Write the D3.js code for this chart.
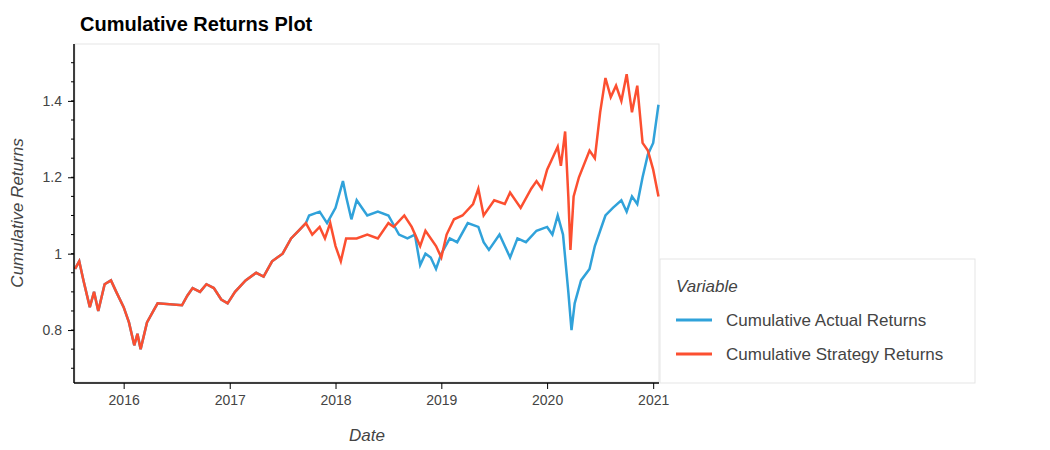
<!DOCTYPE html>
<html>
<head>
<meta charset="utf-8">
<script src="https://cdn.jsdelivr.net/npm/d3@7"></script>
<style>
	body { margin: 0; background: #fff; font-family: "Liberation Sans", Arial, sans-serif; }
	svg { font-family: "Liberation Sans", Arial, sans-serif; }
	.axis text { font-size: 14px; fill: #444; font-family: "Liberation Sans", Arial, sans-serif; }
	.axis path, .axis line { stroke: #000; }
</style>
</head>
<body>
<svg width="1050" height="450"></svg>
<script>
// shared section (both series identical until late 2017)
var sharedT = [2015.54, 2015.58, 2015.62, 2015.68, 2015.72, 2015.76, 2015.82, 2015.88, 2015.93, 2016.0, 2016.05, 2016.1, 2016.13, 2016.16, 2016.22, 2016.28, 2016.32, 2016.55, 2016.6, 2016.65, 2016.72, 2016.78, 2016.85, 2016.92, 2016.98, 2017.05, 2017.15, 2017.25, 2017.32, 2017.4, 2017.5, 2017.58, 2017.65, 2017.72];
var sharedV = [0.96, 0.98, 0.93, 0.86, 0.90, 0.85, 0.92, 0.93, 0.90, 0.86, 0.82, 0.76, 0.79, 0.75, 0.82, 0.85, 0.87, 0.865, 0.89, 0.91, 0.90, 0.92, 0.91, 0.88, 0.87, 0.90, 0.93, 0.95, 0.94, 0.98, 1.0, 1.04, 1.06, 1.08];

var actualT = [2017.75, 2017.85, 2017.92, 2018.0, 2018.07, 2018.1, 2018.15, 2018.2, 2018.3, 2018.4, 2018.5, 2018.6, 2018.68, 2018.75, 2018.8, 2018.85, 2018.9, 2018.95, 2019.0, 2019.08, 2019.15, 2019.25, 2019.35, 2019.4, 2019.45, 2019.55, 2019.6, 2019.65, 2019.72, 2019.8, 2019.9, 2020.0, 2020.05, 2020.1, 2020.15, 2020.2, 2020.23, 2020.26, 2020.32, 2020.4, 2020.45, 2020.5, 2020.55, 2020.62, 2020.7, 2020.75, 2020.8, 2020.85, 2020.9, 2020.95, 2021.0, 2021.05];
var actualV = [1.10, 1.11, 1.08, 1.12, 1.19, 1.15, 1.09, 1.14, 1.10, 1.11, 1.10, 1.05, 1.04, 1.05, 0.97, 1.00, 0.99, 0.96, 1.00, 1.04, 1.03, 1.08, 1.07, 1.03, 1.01, 1.05, 1.02, 0.99, 1.04, 1.03, 1.06, 1.07, 1.05, 1.10, 1.05, 0.90, 0.80, 0.87, 0.93, 0.96, 1.02, 1.06, 1.10, 1.12, 1.14, 1.11, 1.15, 1.13, 1.20, 1.26, 1.29, 1.39];

var strategyT = [2017.78, 2017.85, 2017.9, 2017.95, 2018.0, 2018.05, 2018.1, 2018.2, 2018.3, 2018.4, 2018.5, 2018.55, 2018.65, 2018.72, 2018.8, 2018.85, 2018.95, 2019.0, 2019.05, 2019.12, 2019.2, 2019.3, 2019.35, 2019.4, 2019.5, 2019.6, 2019.65, 2019.75, 2019.85, 2019.9, 2019.95, 2020.0, 2020.05, 2020.1, 2020.13, 2020.17, 2020.2, 2020.22, 2020.25, 2020.3, 2020.4, 2020.45, 2020.5, 2020.55, 2020.6, 2020.65, 2020.7, 2020.75, 2020.8, 2020.85, 2020.9, 2020.95, 2021.0, 2021.05];
var strategyV = [1.05, 1.07, 1.04, 1.08, 1.02, 0.98, 1.04, 1.04, 1.05, 1.04, 1.08, 1.07, 1.10, 1.07, 1.02, 1.06, 1.02, 0.99, 1.05, 1.09, 1.10, 1.13, 1.17, 1.10, 1.14, 1.13, 1.16, 1.12, 1.17, 1.19, 1.17, 1.22, 1.25, 1.28, 1.23, 1.32, 1.15, 1.01, 1.15, 1.20, 1.27, 1.25, 1.37, 1.46, 1.41, 1.44, 1.40, 1.47, 1.37, 1.44, 1.29, 1.27, 1.22, 1.15];

var yTicks = [0.8, 1, 1.2, 1.4];
var seriesNames = ["Cumulative Actual Returns", "Cumulative Strategy Returns"];
var colors = ["#30a2da", "#fc4f30"];

function toDate(t) {
	var yr = Math.floor(t);
	var start = new Date(yr, 0, 1), end = new Date(yr + 1, 0, 1);
	return new Date(+start + (t - yr) * (end - start));
}
function pairs(ts, vs) {
	return ts.map(function(t, i) { return [toDate(t), vs[i]]; });
}

var svg = d3.select("svg");
var pLeft = 75, pRight = 659, pTop = 44, pBottom = 382;

var x = d3.scaleTime().domain([toDate(2015.54), toDate(2021.055)]).range([pLeft, pRight]);
var y = d3.scaleLinear().domain([0.664, 1.549]).range([pBottom, pTop]);

// frame
svg.append("rect").attr("x", pLeft).attr("y", pTop).attr("width", pRight - pLeft).attr("height", pBottom - pTop)
	.attr("fill", "none").attr("stroke", "#e5e5e5");

var shared = pairs(sharedT, sharedV);
var data = [shared.concat(pairs(actualT, actualV)), shared.concat(pairs(strategyT, strategyV))];

var line = d3.line().x(function(d) { return x(d[0]); }).y(function(d) { return y(d[1]); });
svg.append("g").selectAll("path").data(data).enter().append("path")
	.attr("d", line).attr("fill", "none").attr("stroke-width", 2.5)
	.attr("stroke", function(d, i) { return colors[i]; });

// axes
var xAxis = svg.append("g").attr("class", "axis").attr("transform", "translate(0," + (pBottom + 1) + ")")
	.call(d3.axisBottom(x).ticks(d3.timeYear.every(1)).tickFormat(d3.timeFormat("%Y")).tickSizeOuter(0).tickSize(6).tickPadding(6));
var yAxis = svg.append("g").attr("class", "axis").attr("transform", "translate(" + (pLeft - 1) + ",0)")
	.call(d3.axisLeft(y).tickValues(yTicks).tickFormat(d3.format("")).tickSizeOuter(0).tickSize(6).tickPadding(6));
svg.append("g").attr("transform", "translate(" + (pLeft - 1) + ",0)")
	.selectAll("line").data(d3.range(0.7, 1.55, 0.05)).enter().append("line")
	.attr("x1", -3).attr("x2", 0).attr("y1", function(d) { return y(d); }).attr("y2", function(d) { return y(d); })
	.attr("stroke", "#000");
svg.selectAll(".axis .domain").attr("stroke-width", 1.5);
xAxis.select(".domain").attr("d", "M" + (pLeft - 1) + ",0H" + pRight);
yAxis.select(".domain").attr("d", "M0," + pTop + "V" + (pBottom + 1));

// titles
svg.append("text").attr("x", 80).attr("y", 31).attr("font-size", 20).attr("font-weight", "bold").attr("fill", "#000")
	.text("Cumulative Returns Plot");
svg.append("text").attr("x", (pLeft + pRight) / 2).attr("y", 441).attr("text-anchor", "middle")
	.attr("font-size", 17).attr("font-style", "italic").attr("fill", "#444").text("Date");
svg.append("text").attr("transform", "translate(23," + ((pTop + pBottom) / 2) + ") rotate(-90)")
	.attr("text-anchor", "middle").attr("font-size", 17).attr("font-style", "italic").attr("fill", "#444").text("Cumulative Returns");

// legend
var lg = svg.append("g").attr("transform", "translate(660,259)");
lg.append("rect").attr("width", 315).attr("height", 124).attr("fill", "#fff").attr("stroke", "#e5e5e5");
lg.append("text").attr("x", 16).attr("y", 33).attr("font-size", 17).attr("font-style", "italic").attr("fill", "#444").text("Variable");
var item = lg.selectAll(".item").data(seriesNames).enter().append("g")
	.attr("transform", function(d, i) { return "translate(16," + (61 + i * 34) + ")"; });
item.append("line").attr("x1", 0).attr("x2", 36).attr("stroke-width", 3).attr("stroke", function(d, i) { return colors[i]; });
item.append("text").attr("x", 50).attr("y", 6).attr("font-size", 17).attr("fill", "#444").text(function(d) { return d; });
</script>
</body>
</html>
